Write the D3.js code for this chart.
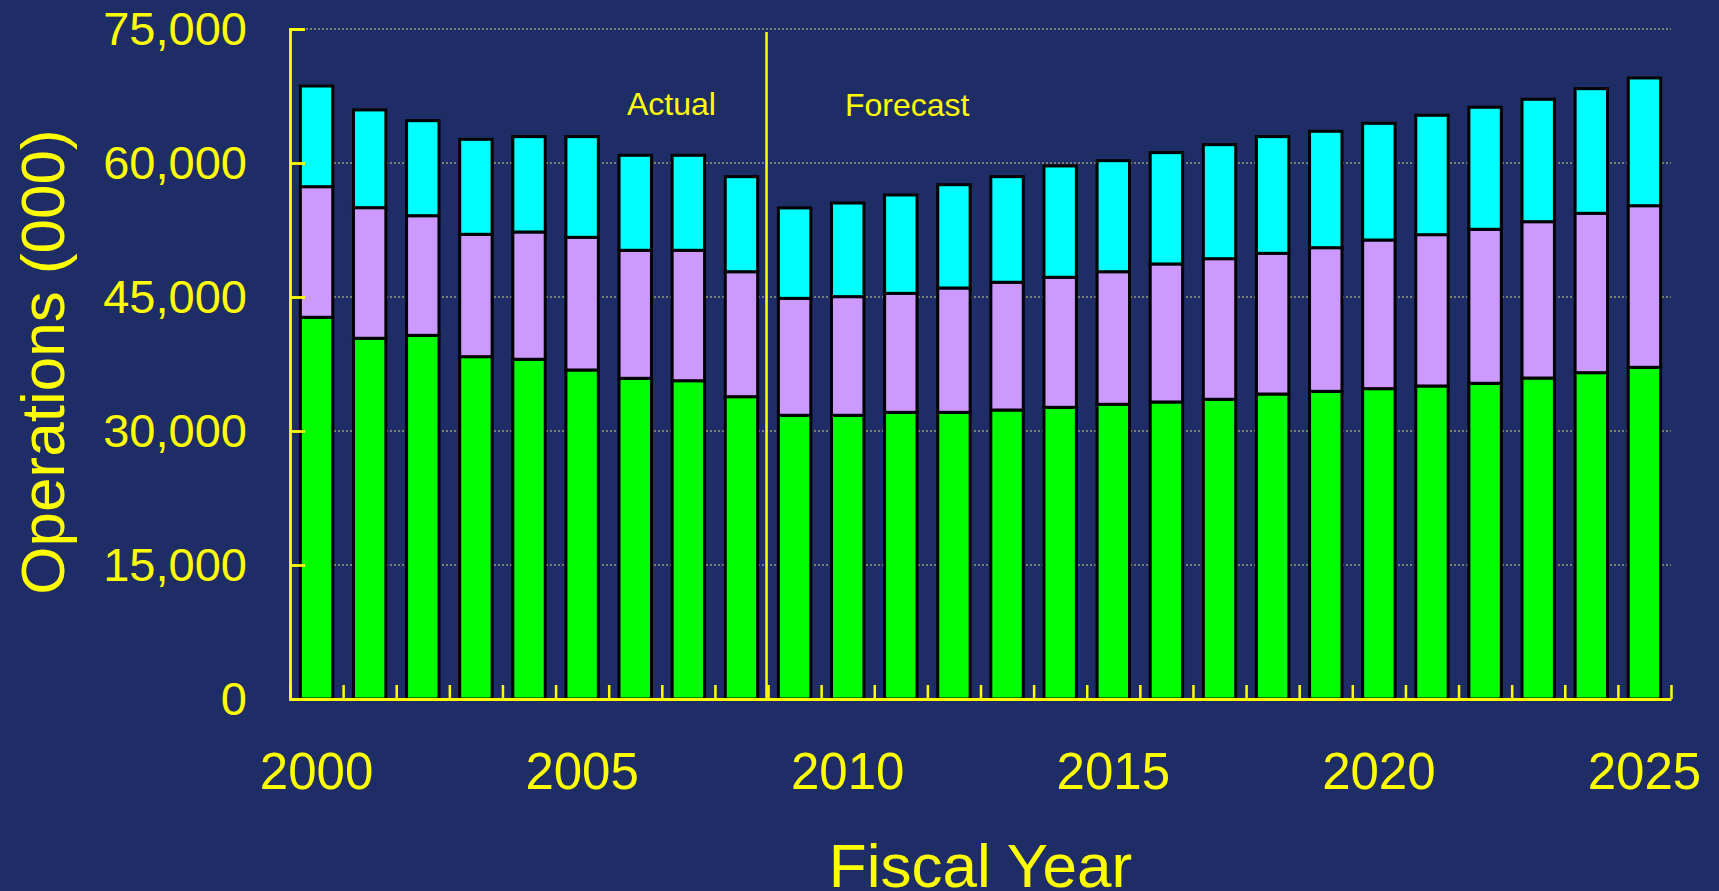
<!DOCTYPE html>
<html>
<head>
<meta charset="utf-8">
<script src="https://cdn.jsdelivr.net/npm/d3@7"></script>
<style>
    html, body { margin: 0; padding: 0; background: #1f2d66; }
    svg { display: block; font-family: "Liberation Sans", Arial, sans-serif; }
</style>
</head>
<body>
<div id="chart"></div>
<script>
// Fiscal years
const years = d3.range(2000, 2026);

// Stacked segments (operations, 000) - bottom to top
const greenOps = [42730, 40380, 40710, 38320, 38030, 36830, 35900, 35630, 33840,
    31760, 31760, 32090, 32090, 32350, 32650, 32990, 33250, 33550, 34140, 34440,
    34740, 35040, 35340, 35930, 36530, 37130];
const purpleOps = [14620, 14620, 13390, 13700, 14250, 14850, 14330, 14600, 13990,
    13090, 13280, 13320, 13920, 14300, 14560, 14840, 15450, 15740, 15750, 16080,
    16640, 16940, 17240, 17500, 17840, 18090];
const cyanOps = [11270, 10940, 10640, 10630, 10670, 11270, 10630, 10630, 10640,
    10120, 10480, 11010, 11560, 11820, 12460, 12430, 12460, 12760, 13060, 13030,
    13060, 13360, 13660, 13700, 13950, 14300];

const yTicks = [0, 15000, 30000, 45000, 60000, 75000];
const labelYears = [2000, 2005, 2010, 2015, 2020, 2025];
const lastActualYear = 2008;

function drawChart() {
    const W = 1719, H = 891;
    const margin = { top: 29, right: 48, bottom: 192, left: 290 };
    const width = W - margin.left - margin.right;
    const height = H - margin.top - margin.bottom;

    const yellow = "#ffff00";
    const colors = ["#00ff00", "#cc99ff", "#00ffff"];

    d3.select('#chart').selectAll("*").remove();

    const svg = d3.select('#chart')
        .append("svg")
        .attr("width", W)
        .attr("height", H)
        .style("background", "#1f2d66")
        .append("g")
        .attr("transform", `translate(${margin.left},${margin.top})`);

    const x = d3.scaleBand()
        .domain(years)
        .range([0, width])
        .paddingInner(0.39)
        .paddingOuter(0.195);

    // linear scale over category boundaries, for ticks
    const xb = d3.scaleLinear()
        .domain([0, years.length])
        .range([0, width]);

    const y = d3.scaleLinear()
        .domain([0, 75000])
        .range([height, 0]);

    // Gridlines (dotted)
    svg.append("g")
        .selectAll("line")
        .data(yTicks.filter(d => d > 0))
        .enter().append("line")
        .attr("x1", 0)
        .attr("x2", width)
        .attr("y1", d => y(d))
        .attr("y2", d => y(d))
        .style("stroke", "#d6d66a")
        .style("stroke-width", 1)
        .style("stroke-dasharray", "2,2");

    // Stack data
    const rows = years.map((yr, i) => ({ year: yr, a: greenOps[i], b: purpleOps[i], c: cyanOps[i] }));
    const stack = d3.stack().keys(["a", "b", "c"])(rows);

    svg.append("g")
        .selectAll("g")
        .data(stack)
        .enter().append("g")
        .style("fill", (d, i) => colors[i])
        .selectAll("rect")
        .data(d => d)
        .enter().append("rect")
        .attr("x", d => x(d.data.year))
        .attr("width", x.bandwidth())
        .attr("y", d => y(d[1]))
        .attr("height", d => y(d[0]) - y(d[1]))
        .style("stroke", "#000")
        .style("stroke-width", 3);

    // Actual / Forecast divider
    const splitIdx = years.indexOf(lastActualYear) + 1;
    svg.append("line")
        .attr("x1", xb(splitIdx) - 1.5)
        .attr("x2", xb(splitIdx) - 1.5)
        .attr("y1", 3)
        .attr("y2", height)
        .style("stroke", yellow)
        .style("stroke-width", 2.5);

    svg.append("text")
        .attr("x", 337)
        .attr("y", 86)
        .style("font-size", "32px")
        .style("fill", yellow)
        .text("Actual");

    svg.append("text")
        .attr("x", 555)
        .attr("y", 87)
        .style("font-size", "32px")
        .style("fill", yellow)
        .text("Forecast");

    // Y axis
    const gY = svg.append("g")
        .call(d3.axisLeft(y)
            .tickValues(yTicks)
            .tickSize(-15)
            .tickPadding(43)
            .tickFormat(d3.format(",")));
    gY.select(".domain").style("stroke", yellow).style("stroke-width", 2.8);
    gY.selectAll(".tick line").style("stroke", yellow).style("stroke-width", 2.8);
    gY.selectAll("text")
        .style("fill", yellow)
        .style("font-size", "47px")
        .style("font-family", "'Liberation Sans', Arial, sans-serif");

    // X axis: boundary ticks pointing up
    const gX = svg.append("g")
        .attr("transform", `translate(0,${height})`)
        .call(d3.axisBottom(xb)
            .tickValues(d3.range(0, years.length + 1))
            .tickSize(-14)
            .tickSizeOuter(0)
            .tickFormat(""));
    gX.select(".domain").style("stroke", yellow).style("stroke-width", 2.8);
    gX.selectAll(".tick line").style("stroke", yellow).style("stroke-width", 2.5);

    // Year labels
    svg.append("g")
        .selectAll("text")
        .data(labelYears)
        .enter().append("text")
        .attr("x", d => x(d) + x.bandwidth() / 2)
        .attr("y", height + 90)
        .attr("text-anchor", "middle")
        .style("font-size", "51px")
        .style("fill", yellow)
        .text(d => d);

    // Axis titles
    svg.append("text")
        .attr("x", width / 2)
        .attr("y", height + 188)
        .attr("text-anchor", "middle")
        .style("font-size", "62px")
        .style("fill", yellow)
        .text("Fiscal Year");

    svg.append("text")
        .attr("transform", "rotate(-90)")
        .attr("x", -height / 2 + 2)
        .attr("y", -226)
        .attr("text-anchor", "middle")
        .style("font-size", "62px")
        .style("fill", yellow)
        .text("Operations (000)");
}

drawChart();
</script>
</body>
</html>
